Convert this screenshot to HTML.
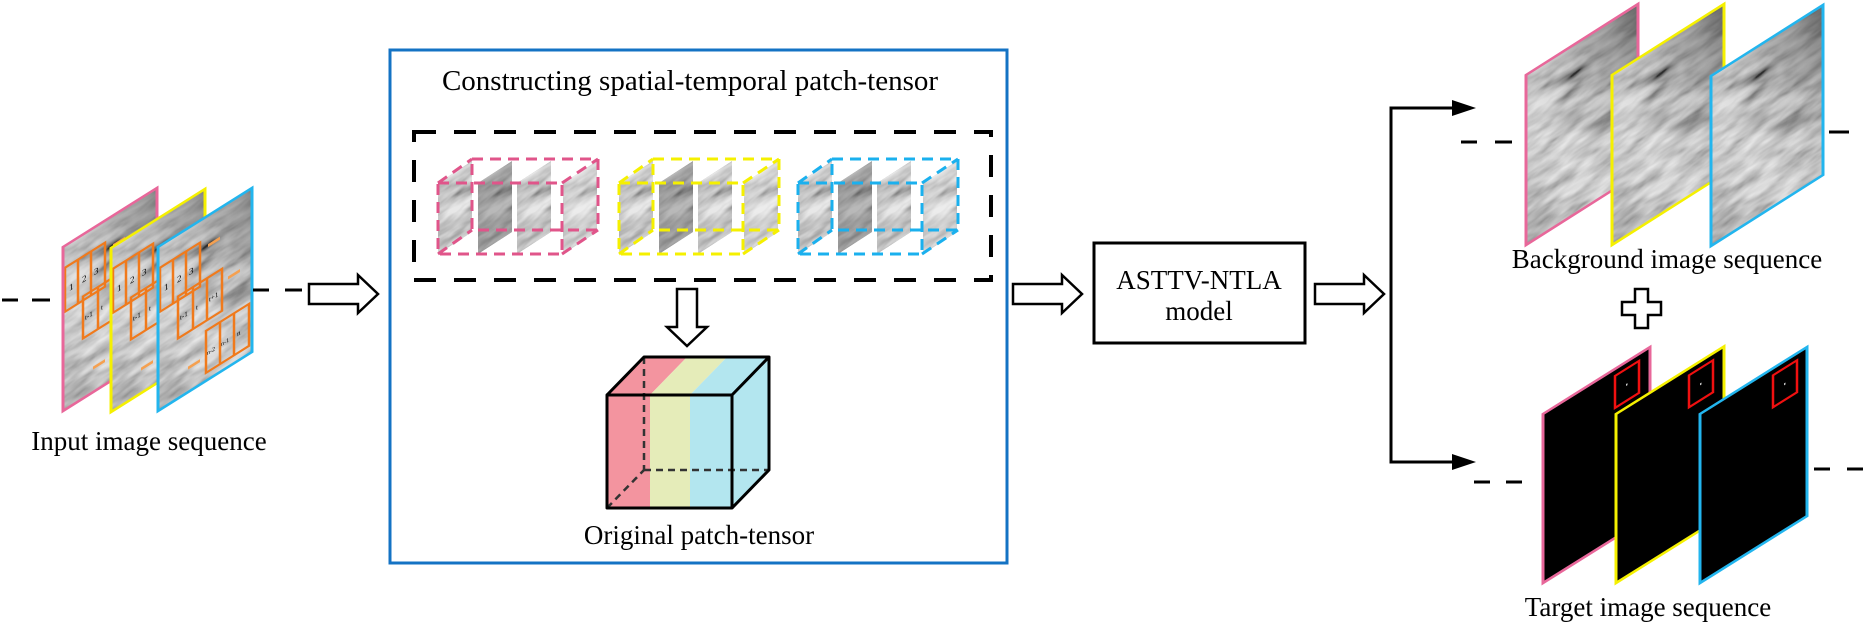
<!DOCTYPE html>
<html><head><meta charset="utf-8"><style>
html,body{margin:0;padding:0;background:#fff;}
svg{display:block;}
text{font-family:"Liberation Serif","Times New Roman",serif;fill:#000;}
</style></head><body>
<svg width="1870" height="637" viewBox="0 0 1870 637" xmlns="http://www.w3.org/2000/svg">
<defs>
  <filter id="cloud" x="0" y="0" width="1" height="1">
    <feTurbulence type="fractalNoise" baseFrequency="0.03 0.09" numOctaves="3" seed="7"/>
    <feColorMatrix type="matrix" values="0.33 0.33 0.33 0 0  0.33 0.33 0.33 0 0  0.33 0.33 0.33 0 0  0 0 0 0 1"/>
    <feComponentTransfer><feFuncR type="linear" slope="2.4" intercept="-0.55"/><feFuncG type="linear" slope="2.4" intercept="-0.55"/><feFuncB type="linear" slope="2.4" intercept="-0.55"/></feComponentTransfer>
  </filter>
  <linearGradient id="gshade" x1="1" y1="0" x2="0" y2="1">
    <stop offset="0" stop-color="#222" stop-opacity="0.6"/>
    <stop offset="0.35" stop-color="#666" stop-opacity="0.2"/>
    <stop offset="0.65" stop-color="#fff" stop-opacity="0.25"/>
    <stop offset="1" stop-color="#777" stop-opacity="0.3"/>
  </linearGradient>
  <g id="tex">
    <rect x="0" y="0" width="112" height="170" fill="#8a8a8a"/>
    <rect x="0" y="0" width="112" height="170" filter="url(#cloud)" opacity="0.8"/>
    <rect x="0" y="0" width="112" height="170" fill="url(#gshade)"/>
  </g>
  <g id="slice">
    <rect x="0" y="0" width="34" height="71" fill="#8a8a8a"/>
    <rect x="0" y="0" width="34" height="71" filter="url(#cloud)" opacity="0.8"/>
  </g>
  <g id="obox">
    <g fill="none" stroke="#f07a1c" stroke-width="2.5">
      <rect x="2" y="22" width="40" height="44"/><line x1="15" y1="22" x2="15" y2="66"/><line x1="28" y1="22" x2="28" y2="66"/>
      <rect x="20" y="62" width="44" height="42"/><line x1="35" y1="62" x2="35" y2="104"/><line x1="49" y1="62" x2="49" y2="104"/>
      <rect x="48" y="114" width="43" height="42"/><line x1="62" y1="114" x2="62" y2="156"/><line x1="76" y1="114" x2="76" y2="156"/>
    </g>
    <g fill="none" stroke="#f5a050" stroke-width="3">
      <line x1="50" y1="30" x2="62" y2="30"/><line x1="70" y1="75" x2="82" y2="75"/><line x1="30" y1="140" x2="42" y2="140"/>
    </g>
    <g font-size="9" font-family="Liberation Serif,serif">
      <text x="6" y="48">1</text><text x="19" y="48">2</text><text x="31" y="48">3</text>
      <text x="22" y="87" font-size="7">t-1</text><text x="38" y="87" font-size="7">t</text><text x="51" y="87" font-size="7">t+1</text>
      <text x="49" y="139" font-size="6">n-2</text><text x="63" y="139" font-size="6">n-1</text><text x="79" y="139" font-size="7">n</text>
    </g>
  </g>
</defs>

<g transform="matrix(1,-0.628,0,1,63,247)">
  <svg width="94" height="164" overflow="hidden"><use href="#tex"/></svg>
  <use href="#obox"/>
  <rect x="0" y="0" width="94" height="164" fill="none" stroke="#e8679a" stroke-width="3"/>
</g>
<g transform="matrix(1,-0.628,0,1,111,248)">
  <svg width="94" height="164" overflow="hidden"><use href="#tex"/></svg>
  <use href="#obox"/>
  <rect x="0" y="0" width="94" height="164" fill="none" stroke="#f5f000" stroke-width="3"/>
</g>
<g transform="matrix(1,-0.628,0,1,158,247)">
  <svg width="94" height="164" overflow="hidden"><use href="#tex"/></svg>
  <use href="#obox"/>
  <rect x="0" y="0" width="94" height="164" fill="none" stroke="#22b5ee" stroke-width="3"/>
</g>
<g stroke="#000" stroke-width="3">
  <line x1="2" y1="300" x2="18" y2="300"/><line x1="32" y1="300" x2="50" y2="300"/>
  <line x1="253" y1="290" x2="269" y2="290"/><line x1="285" y1="290" x2="302" y2="290"/>
</g>
<text x="149" y="450" font-size="27" text-anchor="middle">Input image sequence</text>

<g fill="#fff" stroke="#000" stroke-width="2.5" stroke-linejoin="miter">
  <path d="M309,284 H358 V275 L378,294 L358,313 V304 H309 Z"/>
  <path d="M1013,284 H1062 V275 L1082,294 L1062,313 V304 H1013 Z"/>
  <path d="M1315,284 H1364 V275 L1384,294 L1364,313 V304 H1315 Z"/>
  <path d="M677,289 H697 V327 H707 L687,346 L667,327 H677 Z"/>
  <path d="M1635,289 H1648 V302 H1661 V315 H1648 V328 H1635 V315 H1622 V302 H1635 Z"/>
</g>

<rect x="390" y="50" width="617" height="513" fill="none" stroke="#1473c4" stroke-width="3"/>
<text x="690" y="90" font-size="29" text-anchor="middle">Constructing spatial-temporal patch-tensor</text>
<rect x="414" y="132" width="577" height="148" fill="none" stroke="#000" stroke-width="4" stroke-dasharray="22 18"/>

<g id="cubeP">
  <g transform="matrix(1,-0.647,0,1,438,183)"><svg width="34" height="71" overflow="hidden"><use href="#slice"/></svg></g>
  <g transform="matrix(1,-0.647,0,1,478,183)"><svg width="34" height="71" overflow="hidden"><use href="#slice"/></svg><rect width="34" height="71" fill="#000" opacity="0.2"/></g>
  <g transform="matrix(1,-0.647,0,1,517,183)"><svg width="34" height="71" overflow="hidden"><use href="#slice"/></svg></g>
  <g transform="matrix(1,-0.647,0,1,563,183)"><svg width="34" height="71" overflow="hidden"><use href="#slice"/></svg><rect width="34" height="71" fill="#fff" opacity="0.2"/></g>
</g>
<use href="#cubeP" x="181"/>
<use href="#cubeP" x="360"/>
<g fill="none" stroke-width="3" stroke-dasharray="11 7">
  <g stroke="#e0558a">
    <rect x="438" y="183" width="124" height="71"/><rect x="472" y="159" width="126" height="71"/>
    <line x1="438" y1="183" x2="472" y2="159"/><line x1="562" y1="183" x2="598" y2="159"/><line x1="562" y1="254" x2="598" y2="230"/><line x1="438" y1="254" x2="472" y2="230"/>
  </g>
  <g stroke="#f5f000">
    <rect x="619" y="183" width="124" height="71"/><rect x="653" y="159" width="126" height="71"/>
    <line x1="619" y1="183" x2="653" y2="159"/><line x1="743" y1="183" x2="779" y2="159"/><line x1="743" y1="254" x2="779" y2="230"/><line x1="619" y1="254" x2="653" y2="230"/>
  </g>
  <g stroke="#1ab0ee">
    <rect x="798" y="183" width="124" height="71"/><rect x="832" y="159" width="126" height="71"/>
    <line x1="798" y1="183" x2="832" y2="159"/><line x1="922" y1="183" x2="958" y2="159"/><line x1="922" y1="254" x2="958" y2="230"/><line x1="798" y1="254" x2="832" y2="230"/>
  </g>
</g>

<polygon points="607,395 650,395 687,357 644,357" fill="#f3949f"/>
<polygon points="650,395 690,395 727,357 687,357" fill="#e5ecb9"/>
<polygon points="690,395 732,395 769,357 727,357" fill="#b3e6ef"/>
<rect x="607" y="395" width="43" height="113" fill="#f3949f"/>
<rect x="650" y="395" width="40" height="113" fill="#e5ecb9"/>
<rect x="690" y="395" width="42" height="113" fill="#b3e6ef"/>
<polygon points="732,395 769,357 769,470 732,508" fill="#b3e6ef"/>
<g stroke="#333" stroke-width="2.5" stroke-dasharray="7 5" fill="none">
  <line x1="644" y1="357" x2="644" y2="470"/><line x1="644" y1="470" x2="769" y2="470"/><line x1="607" y1="508" x2="644" y2="470"/>
</g>
<g stroke="#000" stroke-width="3" fill="none" stroke-linejoin="round">
  <rect x="607" y="395" width="125" height="113"/>
  <polyline points="607,395 644,357 769,357 732,395"/>
  <polyline points="769,357 769,470 732,508"/>
</g>
<text x="699" y="544" font-size="27" text-anchor="middle">Original patch-tensor</text>

<rect x="1094" y="243" width="211" height="100" fill="#fff" stroke="#000" stroke-width="3"/>
<text x="1199" y="289" font-size="27" text-anchor="middle">ASTTV-NTLA</text>
<text x="1199" y="320" font-size="27" text-anchor="middle">model</text>

<g stroke="#000" stroke-width="3" fill="none">
  <polyline points="1455,108 1391,108 1391,462 1455,462"/>
</g>
<polygon points="1452,100 1476,108 1452,116" fill="#000"/>
<polygon points="1452,454 1476,462 1452,470" fill="#000"/>

<g transform="matrix(1,-0.634,0,1,1526,75)">
  <svg width="112" height="170" overflow="hidden"><use href="#tex"/></svg>
  <rect width="112" height="170" fill="none" stroke="#e8679a" stroke-width="3"/>
</g>
<g transform="matrix(1,-0.634,0,1,1612,75)">
  <svg width="112" height="170" overflow="hidden"><use href="#tex"/></svg>
  <rect width="112" height="170" fill="none" stroke="#f5f000" stroke-width="3"/>
</g>
<g transform="matrix(1,-0.634,0,1,1711,76)">
  <svg width="112" height="170" overflow="hidden"><use href="#tex"/></svg>
  <rect width="112" height="170" fill="none" stroke="#22b5ee" stroke-width="3"/>
</g>
<g stroke="#000" stroke-width="3">
  <line x1="1461" y1="142" x2="1477" y2="142"/><line x1="1495" y1="142" x2="1512" y2="142"/>
  <line x1="1829" y1="132" x2="1849" y2="132"/>
  <line x1="1474" y1="482" x2="1490" y2="482"/><line x1="1506" y1="482" x2="1522" y2="482"/>
  <line x1="1814" y1="469" x2="1830" y2="469"/><line x1="1847" y1="469" x2="1863" y2="469"/>
</g>
<text x="1667" y="268" font-size="27" text-anchor="middle">Background image sequence</text>

<g transform="matrix(1,-0.626,0,1,1543,414)">
  <rect width="107" height="169" fill="#000" stroke="#e8679a" stroke-width="3"/>
  <rect x="72" y="7" width="24" height="32" fill="none" stroke="#f01010" stroke-width="2.5"/>
  <rect x="83" y="22" width="1.5" height="2" fill="#ccc"/>
</g>
<g transform="matrix(1,-0.626,0,1,1616,414)">
  <rect width="108" height="169" fill="#000" stroke="#f5f000" stroke-width="3"/>
  <rect x="73" y="7" width="24" height="32" fill="none" stroke="#f01010" stroke-width="2.5"/>
  <rect x="84" y="22" width="1.5" height="2" fill="#ccc"/>
</g>
<g transform="matrix(1,-0.626,0,1,1700,414)">
  <rect width="107" height="169" fill="#000" stroke="#22b5ee" stroke-width="3"/>
  <rect x="73" y="7" width="24" height="32" fill="none" stroke="#f01010" stroke-width="2.5"/>
  <rect x="84" y="22" width="1.5" height="2" fill="#ccc"/>
</g>
<text x="1648" y="616" font-size="27" text-anchor="middle">Target image sequence</text>
</svg>
</body></html>
